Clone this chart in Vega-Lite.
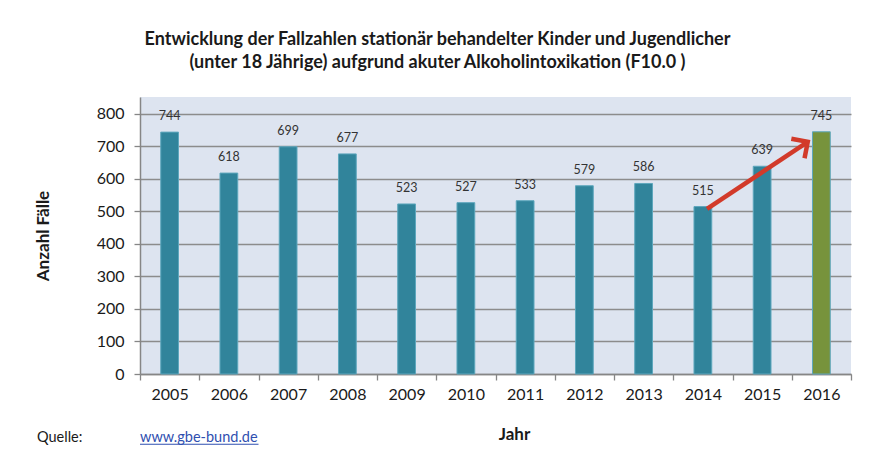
{
  "$schema": "https://vega.github.io/schema/vega-lite/v6.json",
  "width": 711,
  "height": 277,
  "autosize": {"type": "none"},
  "padding": {"left": 140, "top": 97, "right": 40, "bottom": 78},
  "background": "white",
  "config": {"font": "Lato", "view": {"fill": "#dde4f0", "stroke": null}},
  "title": {
    "text": ["Entwicklung der Fallzahlen stationär behandelter Kinder und Jugendlicher", "(unter 18 Jährige) aufgrund akuter Alkoholintoxikation (F10.0 )"],
    "font": "Lato", "fontSize": 18, "fontWeight": "bold", "color": "#1a1a1a",
    "anchor": "middle", "dx": -58, "offset": 25, "lineHeight": 23
  },
  "data": {"values": [
    {"Jahr": "2005", "Faelle": 744},
    {"Jahr": "2006", "Faelle": 618},
    {"Jahr": "2007", "Faelle": 699},
    {"Jahr": "2008", "Faelle": 677},
    {"Jahr": "2009", "Faelle": 523},
    {"Jahr": "2010", "Faelle": 527},
    {"Jahr": "2011", "Faelle": 533},
    {"Jahr": "2012", "Faelle": 579},
    {"Jahr": "2013", "Faelle": 586},
    {"Jahr": "2014", "Faelle": 515},
    {"Jahr": "2015", "Faelle": 639},
    {"Jahr": "2016", "Faelle": 745}
  ]},
  "layer": [
    {
      "mark": {"type": "bar", "width": {"band": 0.3}, "stroke": "#5ea7bd", "strokeWidth": 1},
      "encoding": {
        "x": {
          "field": "Jahr", "type": "ordinal",
          "scale": {"paddingInner": 0, "paddingOuter": 0},
          "axis": {
            "labelAngle": 0, "labelFontSize": 16, "labelColor": "#1a1a1a", "labelPadding": 6,
            "domainColor": "#868686", "domainWidth": 1.5, "tickColor": "#868686", "tickWidth": 1.3, "tickSize": 6,
            "tickBand": "extent",
            "title": "Jahr", "titleFontSize": 17, "titleFontWeight": "bold", "titleColor": "#1a1a1a",
            "titlePadding": 24, "titleX": 374
          }
        },
        "y": {
          "field": "Faelle", "type": "quantitative",
          "scale": {"domain": [0, 852], "nice": false},
          "axis": {
            "values": [0, 100, 200, 300, 400, 500, 600, 700, 800],
            "tickCount": 9, "labelOverlap": false,
            "grid": true, "gridColor": "#8c8c8c", "gridWidth": 1.3,
            "domainColor": "#868686", "domainWidth": 1.5, "tickColor": "#868686", "tickWidth": 1.3, "tickSize": 6,
            "labelFontSize": 16, "labelColor": "#1a1a1a", "labelPadding": 10,
            "title": "Anzahl Fälle", "titleFontSize": 17, "titleFontWeight": "bold", "titleColor": "#1a1a1a",
            "titlePadding": 44
          }
        },
        "color": {"condition": {"test": "datum.Jahr === '2016'", "value": "#77933c"}, "value": "#31849b"}
      }
    },
    {
      "mark": {"type": "text", "baseline": "middle", "dy": -16, "fontSize": 12.5, "color": "#333333"},
      "encoding": {
        "x": {"field": "Jahr", "type": "ordinal"},
        "y": {"field": "Faelle", "type": "quantitative"},
        "text": {"field": "Faelle", "type": "quantitative"}
      }
    },
    {
      "data": {"values": [{}]},
      "mark": {"type": "rule", "color": "#d23a2a", "strokeWidth": 4.5},
      "encoding": {
        "x": {"datum": "2014", "bandPosition": 0.57},
        "y": {"datum": 508},
        "x2": {"datum": "2016", "bandPosition": 0.27},
        "y2": {"datum": 714}
      }
    },
    {
      "data": {"values": [{}]},
      "mark": {"type": "point", "shape": "M -1 1 L 0 0 L 1 1", "size": 560, "angle": 56, "filled": false, "stroke": "#d23a2a", "strokeWidth": 4.5, "strokeJoin": "miter", "opacity": 1},
      "encoding": {
        "x": {"datum": "2016", "bandPosition": 0.27},
        "y": {"datum": 714}
      }
    },
    {
      "data": {"values": [{}]},
      "mark": {"type": "text", "align": "left", "baseline": "middle", "dx": -103, "fontSize": 14.5, "color": "#1a1a1a", "text": "Quelle:"},
      "encoding": {
        "x": {"datum": "2005", "bandPosition": 0},
        "y": {"datum": -198}
      }
    },
    {
      "data": {"values": [{}]},
      "mark": {"type": "text", "align": "left", "baseline": "middle", "fontSize": 14.5, "color": "#2f4fb0", "text": "www.gbe-bund.de"},
      "encoding": {
        "x": {"datum": "2005", "bandPosition": 0},
        "y": {"datum": -198}
      }
    },
    {
      "data": {"values": [{}]},
      "mark": {"type": "rule", "color": "#2f4fb0", "strokeWidth": 1.2},
      "encoding": {
        "x": {"datum": "2005", "bandPosition": 0},
        "x2": {"datum": "2007", "bandPosition": 0},
        "y": {"datum": -216}
      }
    }
  ]
}
